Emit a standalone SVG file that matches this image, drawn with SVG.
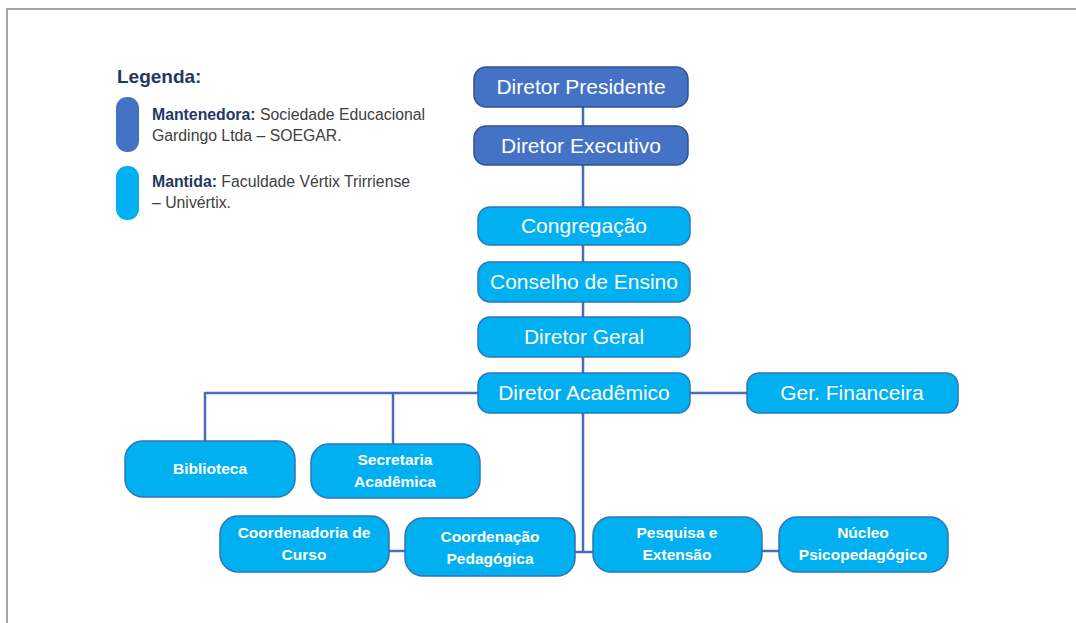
<svg xmlns="http://www.w3.org/2000/svg" width="1076" height="623" viewBox="0 0 1076 623">
<style>
.dark{fill:#4472C4;stroke:#2F528F;stroke-width:1.5}
.light{fill:#00B0F0;stroke:#2E75B6;stroke-width:1.5}
.t{font-family:"Liberation Sans",Arial,sans-serif;font-size:21px;fill:#fff;text-anchor:middle}
.b{font-family:"Liberation Sans",Arial,sans-serif;font-size:15.5px;font-weight:bold;fill:#fff;text-anchor:middle}
.lg{font-family:"Liberation Sans",Arial,sans-serif;font-size:15.8px;fill:#404040}
.lgb{font-weight:bold;fill:#1F3864}
.conn{stroke:#4A6DB8;stroke-width:2.5;fill:none}
</style>
<rect x="0" y="0" width="1076" height="623" fill="#fff"/>
<path d="M7 623 V9 H1076" fill="none" stroke="#888" stroke-width="1.5"/>
<g id="legend">
<text x="117" y="83" style="font-family:'Liberation Sans',Arial,sans-serif;font-size:19px;font-weight:bold;fill:#1F3864">Legenda:</text>
<rect x="116" y="97" width="23" height="55" rx="11" fill="#4472C4"/>
<rect x="116" y="166" width="23" height="54" rx="11" fill="#00B0F0"/>
<text class="lg" x="152" y="120"><tspan class="lgb">Mantenedora:</tspan> Sociedade Educacional</text>
<text class="lg" x="152" y="141">Gardingo Ltda – SOEGAR.</text>
<text class="lg" x="152" y="187"><tspan class="lgb">Mantida:</tspan> Faculdade Vértix Trirriense</text>
<text class="lg" x="152" y="208">– Univértix.</text>
</g>
<g id="connectors">
<line class="conn" x1="583" y1="107" x2="583" y2="552"/>
<line class="conn" x1="205" y1="393" x2="747" y2="393"/>
<line class="conn" x1="205" y1="392" x2="205" y2="441"/>
<line class="conn" x1="393" y1="392" x2="393" y2="444"/>
<line class="conn" x1="574" y1="552" x2="594" y2="552"/>
<line class="conn" x1="388" y1="551" x2="406" y2="551"/>
<line class="conn" x1="761" y1="551" x2="780" y2="551"/>
</g>
<g id="n-diretor-presidente"><rect class="dark" x="474" y="67" width="214" height="40" rx="12"/><text class="t" x="581" y="94">Diretor Presidente</text></g>
<g id="n-diretor-executivo"><rect class="dark" x="474" y="126" width="214" height="39" rx="12"/><text class="t" x="581" y="153">Diretor Executivo</text></g>
<g id="n-congregacao"><rect class="light" x="478" y="207" width="212" height="38" rx="12"/><text class="t" x="584" y="233">Congregação</text></g>
<g id="n-conselho"><rect class="light" x="478" y="262" width="212" height="40" rx="12"/><text class="t" x="584" y="289">Conselho de Ensino</text></g>
<g id="n-diretor-geral"><rect class="light" x="478" y="317" width="212" height="40" rx="12"/><text class="t" x="584" y="344">Diretor Geral</text></g>
<g id="n-diretor-academico"><rect class="light" x="478" y="373" width="212" height="40" rx="12"/><text class="t" x="584" y="400">Diretor Acadêmico</text></g>
<g id="n-ger-financeira"><rect class="light" x="747" y="373" width="211" height="40" rx="12"/><text class="t" x="852" y="400">Ger. Financeira</text></g>
<g id="n-biblioteca"><rect class="light" x="125" y="441" width="170" height="56" rx="18"/><text class="b" x="210" y="474">Biblioteca</text></g>
<g id="n-secretaria"><rect class="light" x="311" y="444" width="169" height="54" rx="18"/><text class="b" x="395" y="465">Secretaria</text><text class="b" x="395" y="487">Acadêmica</text></g>
<g id="n-coordenadoria"><rect class="light" x="220" y="516" width="169" height="56" rx="18"/><text class="b" x="304" y="538">Coordenadoria de</text><text class="b" x="304" y="560">Curso</text></g>
<g id="n-coordenacao"><rect class="light" x="405" y="518" width="170" height="58" rx="18"/><text class="b" x="490" y="542">Coordenação</text><text class="b" x="490" y="564">Pedagógica</text></g>
<g id="n-pesquisa"><rect class="light" x="593" y="517" width="169" height="55" rx="18"/><text class="b" x="677" y="538">Pesquisa e</text><text class="b" x="677" y="560">Extensão</text></g>
<g id="n-nucleo"><rect class="light" x="779" y="517" width="169" height="55" rx="18"/><text class="b" x="863" y="538">Núcleo</text><text class="b" x="863" y="560">Psicopedagógico</text></g>
</svg>
